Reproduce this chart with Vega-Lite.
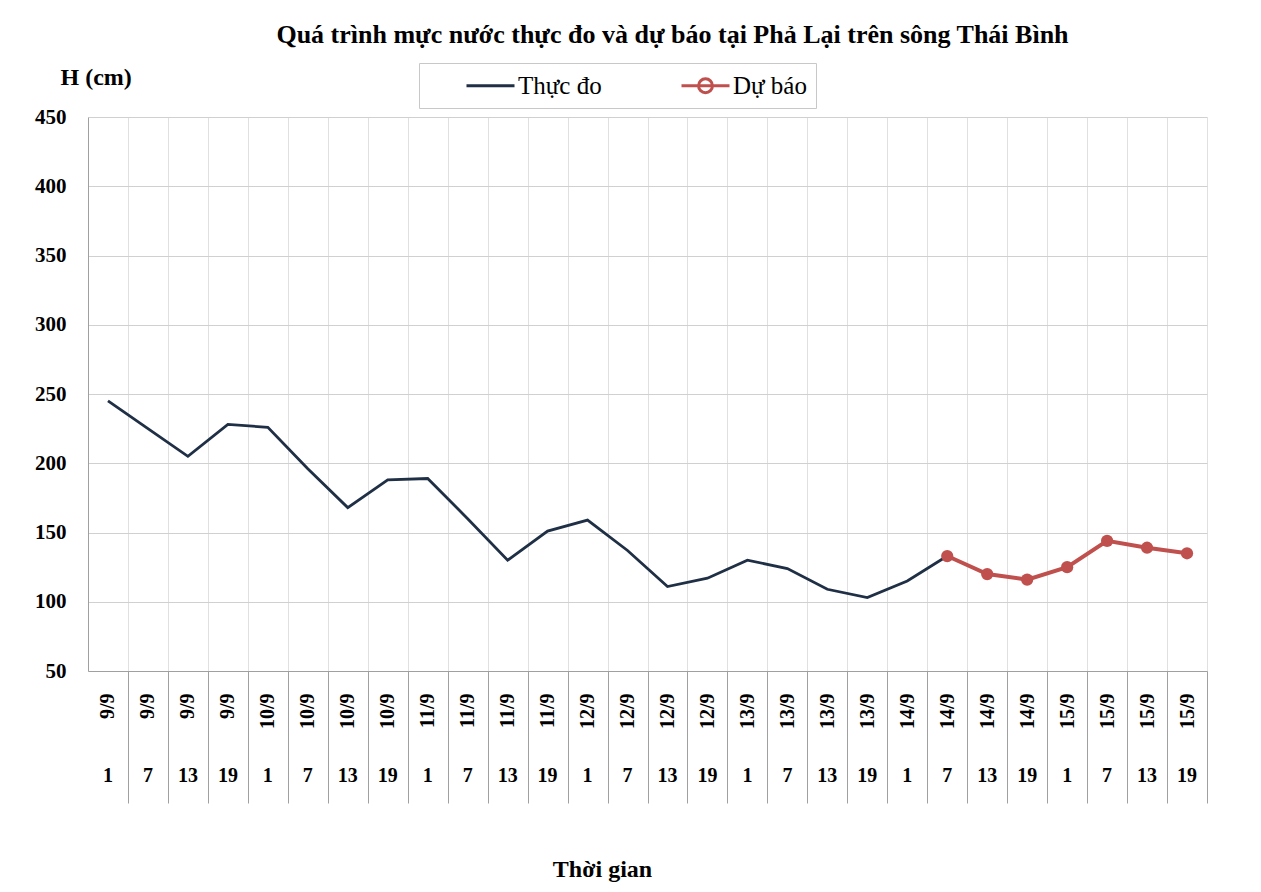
{
  "$schema": "https://vega.github.io/schema/vega-lite/v6.json",
  "width": 1119,
  "height": 554,
  "autosize": {"type": "none"},
  "padding": {"left": 88, "top": 117, "right": 54, "bottom": 221},
  "background": "white",
  "title": {
    "text": "Quá trình mực nước thực đo và dự báo tại Phả Lại trên sông Thái Bình",
    "font": "Liberation Serif",
    "fontSize": 26,
    "fontWeight": "bold",
    "color": "black",
    "anchor": "middle",
    "dx": 25,
    "offset": 15
  },
  "data": {
    "values": [
      {"t": "09/9 01", "d": "9/9", "hr": "1", "h": 245, "s": "Thực đo"},
      {"t": "09/9 07", "d": "9/9", "hr": "7", "h": 225, "s": "Thực đo"},
      {"t": "09/9 13", "d": "9/9", "hr": "13", "h": 205, "s": "Thực đo"},
      {"t": "09/9 19", "d": "9/9", "hr": "19", "h": 228, "s": "Thực đo"},
      {"t": "10/9 01", "d": "10/9", "hr": "1", "h": 226, "s": "Thực đo"},
      {"t": "10/9 07", "d": "10/9", "hr": "7", "h": 196, "s": "Thực đo"},
      {"t": "10/9 13", "d": "10/9", "hr": "13", "h": 168, "s": "Thực đo"},
      {"t": "10/9 19", "d": "10/9", "hr": "19", "h": 188, "s": "Thực đo"},
      {"t": "11/9 01", "d": "11/9", "hr": "1", "h": 189, "s": "Thực đo"},
      {"t": "11/9 07", "d": "11/9", "hr": "7", "h": 160, "s": "Thực đo"},
      {"t": "11/9 13", "d": "11/9", "hr": "13", "h": 130, "s": "Thực đo"},
      {"t": "11/9 19", "d": "11/9", "hr": "19", "h": 151, "s": "Thực đo"},
      {"t": "12/9 01", "d": "12/9", "hr": "1", "h": 159, "s": "Thực đo"},
      {"t": "12/9 07", "d": "12/9", "hr": "7", "h": 137, "s": "Thực đo"},
      {"t": "12/9 13", "d": "12/9", "hr": "13", "h": 111, "s": "Thực đo"},
      {"t": "12/9 19", "d": "12/9", "hr": "19", "h": 117, "s": "Thực đo"},
      {"t": "13/9 01", "d": "13/9", "hr": "1", "h": 130, "s": "Thực đo"},
      {"t": "13/9 07", "d": "13/9", "hr": "7", "h": 124, "s": "Thực đo"},
      {"t": "13/9 13", "d": "13/9", "hr": "13", "h": 109, "s": "Thực đo"},
      {"t": "13/9 19", "d": "13/9", "hr": "19", "h": 103, "s": "Thực đo"},
      {"t": "14/9 01", "d": "14/9", "hr": "1", "h": 115, "s": "Thực đo"},
      {"t": "14/9 07", "d": "14/9", "hr": "7", "h": 133, "s": "Thực đo"},
      {"t": "14/9 07", "d": "14/9", "hr": "7", "h": 133, "s": "Dự báo"},
      {"t": "14/9 13", "d": "14/9", "hr": "13", "h": 120, "s": "Dự báo"},
      {"t": "14/9 19", "d": "14/9", "hr": "19", "h": 116, "s": "Dự báo"},
      {"t": "15/9 01", "d": "15/9", "hr": "1", "h": 125, "s": "Dự báo"},
      {"t": "15/9 07", "d": "15/9", "hr": "7", "h": 144, "s": "Dự báo"},
      {"t": "15/9 13", "d": "15/9", "hr": "13", "h": 139, "s": "Dự báo"},
      {"t": "15/9 19", "d": "15/9", "hr": "19", "h": 135, "s": "Dự báo"}
    ]
  },
  "layer": [
    {
      "transform": [{"filter": "datum.s == 'Thực đo'"}],
      "mark": {"type": "line", "color": "#1f2f45", "strokeWidth": 2.8},
      "encoding": {
        "x": {
          "field": "t",
          "type": "ordinal",
          "axis": {
            "labelExpr": "'' + toNumber(slice(datum.value,0,2)) + '/9'",
            "labelAngle": 270,
            "labelAlign": "right",
            "labelBaseline": "middle",
            "labelPadding": -110,
            "labelOffset": -20,
            "tickOffset": 20,
            "labelFontSize": 20,
            "labelFontWeight": "bold",
            "labelOverlap": false,
            "ticks": true,
            "tickSize": 132,
            "tickColor": "#a0a0a0",
            "domainColor": "#a0a0a0",
            "grid": true,
            "gridColor": "#e0e0e0",
            "title": "Thời gian",
            "titleFontSize": 24,
            "titleFontWeight": "bold",
            "titleX": 514,
            "titleY": 205,
            "titleAlign": "center",
            "titleBaseline": "alphabetic"
          }
        },
        "y": {
          "field": "h",
          "type": "quantitative",
          "scale": {"domain": [50, 450], "nice": false, "zero": false},
          "axis": {
            "title": "H (cm)",
            "titleAngle": 0,
            "titleAlign": "left",
            "titleBaseline": "alphabetic",
            "titleX": -28,
            "titleY": -33,
            "titleFontSize": 24,
            "titleFontWeight": "bold",
            "values": [50, 100, 150, 200, 250, 300, 350, 400, 450],
            "labelFontSize": 21,
            "labelFontWeight": "bold",
            "labelPadding": 22,
            "ticks": false,
            "domainColor": "#a0a0a0",
            "gridColor": "#d0d0d0"
          }
        }
      }
    },
    {
      "transform": [{"filter": "datum.s == 'Dự báo'"}],
      "mark": {"type": "line", "color": "#c0504d", "strokeWidth": 4},
      "encoding": {
        "x": {"field": "t", "type": "ordinal"},
        "y": {"field": "h", "type": "quantitative"}
      }
    },
    {
      "transform": [{"filter": "datum.s == 'Dự báo'"}],
      "mark": {"type": "point", "filled": true, "size": 150, "color": "#c0504d", "opacity": 1},
      "encoding": {
        "x": {"field": "t", "type": "ordinal"},
        "y": {"field": "h", "type": "quantitative"}
      }
    },
    {
      "transform": [{"filter": "datum.s == 'Thực đo' || datum.hr != '7' || datum.d != '14/9'"}],
      "mark": {"type": "text", "font": "Liberation Serif", "fontSize": 20, "fontWeight": "bold", "color": "black", "baseline": "middle", "align": "center"},
      "encoding": {
        "x": {"field": "t", "type": "ordinal"},
        "y": {"datum": -26, "type": "quantitative"},
        "text": {"field": "hr"}
      }
    },
    {
      "mark": {"type": "point", "filled": true, "opacity": 0, "strokeWidth": 3},
      "encoding": {
        "x": {"field": "t", "type": "ordinal"},
        "y": {"field": "h", "type": "quantitative"},
        "stroke": {
          "field": "s",
          "type": "nominal",
          "scale": {"domain": ["Thực đo", "Dự báo"], "range": ["#1f2f45", "#c0504d"]},
          "legend": {
            "orient": "none",
            "legendX": 331,
            "legendY": -54,
            "direction": "horizontal",
            "title": " ",
            "titleOrient": "left",
            "titleFontSize": 10,
            "titlePadding": 61,
            "labelFont": "Liberation Serif",
            "labelFontSize": 25,
            "labelColor": "black",
            "symbolSize": 576,
            "symbolStrokeWidth": 3,
            "symbolOpacity": 1,
            "labelOffset": 2,
            "columnPadding": 73,
            "padding": 9,
            "strokeColor": "#c8c8c8",
            "fillColor": "white"
          }
        },
        "fill": {
          "field": "s",
          "type": "nominal",
          "scale": {"domain": ["Thực đo", "Dự báo"], "range": ["#1f2f45", "#c0504d"]}
        },
        "shape": {
          "field": "s",
          "type": "nominal",
          "scale": {
            "domain": ["Thực đo", "Dự báo"],
            "range": ["M-3,0L1,0", "M-3,0L1,0M-0.42,0A0.58,0.58,0,1,1,-1.58,0A0.58,0.58,0,1,1,-0.42,0Z"]
          }
        }
      }
    }
  ],
  "config": {
    "font": "Liberation Serif",
    "view": {"stroke": null},
    "axis": {
      "labelColor": "black",
      "titleColor": "black",
      "labelFont": "Liberation Serif",
      "titleFont": "Liberation Serif"
    }
  }
}
